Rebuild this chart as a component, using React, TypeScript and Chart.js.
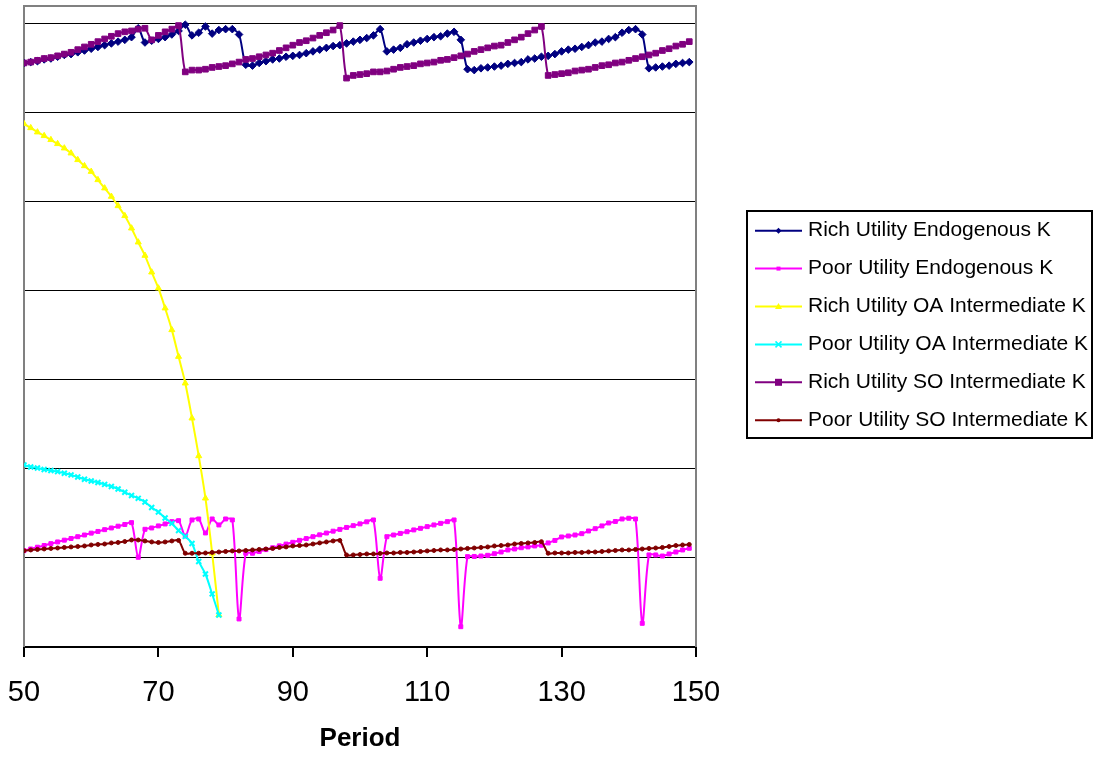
import React, { useEffect, useRef } from 'react';
import { Chart, registerables } from 'chart.js';

Chart.register(...registerables);

// Periods 50..149
const periods: number[] = Array.from({ length: 100 }, (_, i) => 50 + i);
const xTickValues = [50, 70, 90, 110, 130, 150];

const richEndogenous = [
  6.56, 6.57, 6.58, 6.60, 6.61, 6.63, 6.65, 6.66, 6.68, 6.70, 6.72, 6.74, 6.76, 6.78, 6.80, 6.82, 6.85,
  6.95, 6.79, 6.81, 6.83, 6.85, 6.88, 6.92, 6.99, 6.87, 6.90, 6.97, 6.89, 6.93, 6.94, 6.94, 6.88, 6.54, 6.53,
  6.56, 6.58, 6.60, 6.61, 6.63, 6.64, 6.65, 6.67, 6.69, 6.71, 6.73, 6.75, 6.76, 6.78, 6.80, 6.82, 6.84, 6.87, 6.94, 6.69,
  6.71, 6.73, 6.77, 6.79, 6.81, 6.83, 6.85, 6.86, 6.89, 6.91, 6.82, 6.49, 6.48,
  6.50, 6.51, 6.52, 6.53, 6.55, 6.56, 6.57, 6.60, 6.61, 6.63, 6.64, 6.66, 6.69, 6.71, 6.72, 6.74, 6.76, 6.79,
  6.80, 6.83, 6.85, 6.90, 6.93, 6.94, 6.88, 6.50, 6.51, 6.52, 6.53, 6.55, 6.56, 6.57,
];

const poorEndogenous = [
  1.082, 1.101, 1.121, 1.140, 1.161, 1.180, 1.200, 1.219, 1.239, 1.258, 1.279, 1.298, 1.318, 1.337, 1.357, 1.376, 1.397,
  1.008, 1.322, 1.337, 1.360, 1.382, 1.408, 1.419, 1.247, 1.427, 1.438, 1.281, 1.438, 1.371, 1.438, 1.427, 0.315, 1.053, 1.053,
  1.073, 1.094, 1.115, 1.136, 1.156, 1.176, 1.198, 1.218, 1.239, 1.260, 1.280, 1.301, 1.321, 1.343, 1.363, 1.383, 1.406, 1.427, 0.772, 1.239,
  1.258, 1.276, 1.295, 1.315, 1.333, 1.352, 1.371, 1.389, 1.408, 1.427, 0.228, 1.015, 1.017,
  1.022, 1.030, 1.048, 1.067, 1.090, 1.101, 1.115, 1.124, 1.135, 1.143, 1.169, 1.197, 1.236, 1.247, 1.258, 1.273,
  1.303, 1.329, 1.360, 1.393, 1.410, 1.438, 1.446, 1.438, 0.266, 1.034, 1.034, 1.022, 1.045, 1.067, 1.090, 1.109,
];

const richOA = [
  5.876, 5.831, 5.783, 5.742, 5.697, 5.652, 5.603, 5.547, 5.472, 5.404, 5.340, 5.247, 5.154, 5.060, 4.955,
  4.843, 4.704, 4.547, 4.397, 4.210, 4.030, 3.806, 3.562, 3.262, 2.963, 2.570, 2.146, 1.671, 1.053, 0.360,
];

const poorOA = [
  2.045, 2.022, 2.011, 1.994, 1.983, 1.970, 1.952, 1.933, 1.910, 1.884, 1.865, 1.848, 1.826, 1.803, 1.775,
  1.738, 1.702, 1.670, 1.629, 1.567, 1.517, 1.449, 1.388, 1.309, 1.242, 1.163, 0.961, 0.820, 0.596, 0.360,
];

const richSO = [
  6.56, 6.57, 6.59, 6.61, 6.62, 6.64, 6.66, 6.68, 6.71, 6.74, 6.77, 6.80, 6.83, 6.86, 6.89, 6.91, 6.92,
  6.94, 6.95, 6.82, 6.87, 6.91, 6.94, 6.98, 6.46,
  6.48, 6.48, 6.49, 6.51, 6.52, 6.53, 6.55, 6.57, 6.60, 6.61, 6.63, 6.65, 6.67, 6.70, 6.73, 6.76, 6.79, 6.81,
  6.84, 6.87, 6.90, 6.93, 6.98, 6.39,
  6.42, 6.43, 6.44, 6.46, 6.46, 6.47, 6.49, 6.51, 6.52, 6.53, 6.55, 6.56, 6.57, 6.59, 6.60, 6.62, 6.64, 6.66,
  6.69, 6.71, 6.73, 6.75, 6.76, 6.79, 6.82, 6.85, 6.89, 6.93, 6.97, 6.42,
  6.43, 6.44, 6.45, 6.47, 6.48, 6.49, 6.51, 6.53, 6.54, 6.56, 6.57, 6.59, 6.61, 6.63, 6.65, 6.67, 6.70, 6.72,
  6.75, 6.77, 6.80,
];

const poorSO = [
  1.082, 1.090, 1.096, 1.101, 1.107, 1.112, 1.118, 1.124, 1.129, 1.135, 1.146, 1.152, 1.157, 1.169, 1.174, 1.185,
  1.202, 1.202, 1.191, 1.180, 1.174, 1.180, 1.191, 1.197, 1.053, 1.053, 1.053, 1.056, 1.062, 1.067, 1.073, 1.079,
  1.079, 1.084, 1.090, 1.096, 1.101, 1.107, 1.118, 1.124, 1.135, 1.140, 1.146, 1.157, 1.169, 1.180, 1.191, 1.197,
  1.034, 1.034, 1.039, 1.045, 1.045, 1.051, 1.056, 1.056, 1.062, 1.062, 1.067, 1.073, 1.079, 1.084, 1.090, 1.090,
  1.096, 1.101, 1.107, 1.112, 1.118, 1.124, 1.135, 1.140, 1.146, 1.157, 1.163, 1.169, 1.174, 1.183, 1.053,
  1.056, 1.056, 1.056, 1.062, 1.062, 1.067, 1.067, 1.073, 1.079, 1.084, 1.090, 1.090, 1.096, 1.101, 1.107, 1.112,
  1.118, 1.129, 1.140, 1.146, 1.152,
];

const seriesLabels = [
  'Rich Utility Endogenous K',
  'Poor Utility Endogenous K',
  'Rich Utility OA Intermediate K',
  'Poor Utility OA Intermediate K',
  'Rich Utility SO Intermediate K',
  'Poor Utility SO Intermediate K',
];
const seriesValues = [richEndogenous, poorEndogenous, richOA, poorOA, richSO, poorSO];
const seriesColors = ['#000080', '#FF00FF', '#FFFF00', '#00FFFF', '#800080', '#800000'];
const seriesPoints = ['rectRot', 'rect', 'triangle', 'crossRot', 'rect', 'circle'];
const seriesRadius = [3.8, 2.8, 3.5, 3.5, 4, 2];

const FONT = '"Liberation Sans", Arial, Helvetica, sans-serif';

function drawLegendMarker(ctx: CanvasRenderingContext2D, kind: string, x: number, y: number, color: string, big: boolean) {
  ctx.save();
  ctx.fillStyle = color;
  ctx.strokeStyle = color;
  ctx.lineWidth = 1.5;
  ctx.beginPath();
  if (kind === 'rectRot') {
    ctx.moveTo(x, y - 3); ctx.lineTo(x + 3, y); ctx.lineTo(x, y + 3); ctx.lineTo(x - 3, y); ctx.closePath(); ctx.fill();
  } else if (kind === 'rect') {
    const s = big ? 3.5 : 2;
    ctx.rect(x - s, y - s, 2 * s, 2 * s); ctx.fill();
  } else if (kind === 'triangle') {
    ctx.moveTo(x, y - 3.5); ctx.lineTo(x + 3.5, y + 2.5); ctx.lineTo(x - 3.5, y + 2.5); ctx.closePath(); ctx.fill();
  } else if (kind === 'crossRot') {
    ctx.moveTo(x - 3, y - 3); ctx.lineTo(x + 3, y + 3); ctx.moveTo(x + 3, y - 3); ctx.lineTo(x - 3, y + 3); ctx.stroke();
  } else {
    ctx.arc(x, y, 2, 0, Math.PI * 2); ctx.fill();
  }
  ctx.restore();
}

export default function App() {
  const canvasRef = useRef<HTMLCanvasElement>(null);

  useEffect(() => {
    const canvas = canvasRef.current;
    if (!canvas) return;
    const ctx = canvas.getContext('2d');
    if (!ctx) return;

    const datasets = seriesValues.map((vals, i) => ({
      label: seriesLabels[i],
      data: vals.map((v, j) => ({ x: periods[j], y: v })),
      borderColor: seriesColors[i],
      backgroundColor: seriesColors[i],
      borderWidth: 2,
      pointStyle: seriesPoints[i] as any,
      pointRadius: seriesRadius[i],
      pointBorderWidth: seriesPoints[i] === 'crossRot' ? 2 : 1,
      pointBackgroundColor: seriesColors[i],
      pointBorderColor: seriesColors[i],
      tension: 0.3,
      fill: false,
      order: 10 - i,
    }));

    const framePlugin = {
      id: 'plotFrame',
      beforeDatasetsDraw(chart: any) {
        const { left, top, right, bottom } = chart.chartArea;
        const c = chart.ctx;
        c.save();
        c.strokeStyle = '#808080';
        c.lineWidth = 2;
        c.beginPath();
        c.moveTo(left, bottom);
        c.lineTo(left, top);
        c.lineTo(right, top);
        c.lineTo(right, bottom);
        c.stroke();
        c.restore();
      },
    };

    const legendPlugin = {
      id: 'boxLegend',
      afterDraw(chart: any) {
        const c: CanvasRenderingContext2D = chart.ctx;
        c.save();
        c.strokeStyle = '#000';
        c.lineWidth = 2;
        c.strokeRect(747, 211, 345, 227);
        c.font = `21px ${FONT}`;
        c.textBaseline = 'middle';
        c.textAlign = 'left';
        seriesLabels.forEach((label, i) => {
          const y = 230.7 + i * 37.9;
          c.strokeStyle = seriesColors[i];
          c.lineWidth = 2;
          c.beginPath();
          c.moveTo(755, y);
          c.lineTo(802, y);
          c.stroke();
          drawLegendMarker(c, seriesPoints[i], 778.5, y, seriesColors[i], i === 4);
          c.fillStyle = '#000';
          c.fillText(label, 808, y);
        });
        c.restore();
      },
    };

    const chart = new Chart(ctx, {
      type: 'line',
      data: { datasets },
      options: {
        responsive: false,
        animation: false,
        devicePixelRatio: 1,
        layout: { padding: { left: 24, right: 398, top: 6, bottom: 0 } },
        plugins: {
          legend: { display: false },
          tooltip: { enabled: false },
        },
        scales: {
          x: {
            type: 'linear',
            min: 50,
            max: 150,
            afterBuildTicks: (scale: any) => {
              scale.ticks = xTickValues.map((v) => ({ value: v }));
            },
            afterFit: (scale: any) => {
              scale.height = 110;
              scale.paddingLeft = 0;
              scale.paddingRight = 0;
            },
            ticks: {
              font: { family: FONT, size: 29 },
              color: '#000',
              padding: 19,
              maxRotation: 0,
              autoSkip: false,
            },
            grid: {
              drawOnChartArea: false,
              drawTicks: true,
              tickLength: 10,
              color: '#000',
              lineWidth: 2,
            },
            border: { display: true, color: '#000', width: 2 },
            title: {
              display: true,
              text: 'Period',
              font: { family: FONT, size: 26, weight: 'bold' },
              color: '#000',
              padding: { top: 0, bottom: 3 },
            },
          },
          y: {
            type: 'linear',
            min: 0,
            max: 7.2,
            afterFit: (scale: any) => {
              scale.width = 0;
            },
            ticks: { display: false, stepSize: 1, includeBounds: false },
            grid: { color: '#000', lineWidth: 1, drawTicks: false },
            border: { display: false },
          },
        },
      } as any,
      plugins: [framePlugin, legendPlugin],
    });

    return () => chart.destroy();
  }, []);

  return (
    <div style={{ position: 'fixed', left: 0, top: 0, width: 1094, height: 757, background: '#fff' }}>
      <canvas ref={canvasRef} width={1094} height={757} style={{ width: 1094, height: 757, display: 'block' }} />
    </div>
  );
}
